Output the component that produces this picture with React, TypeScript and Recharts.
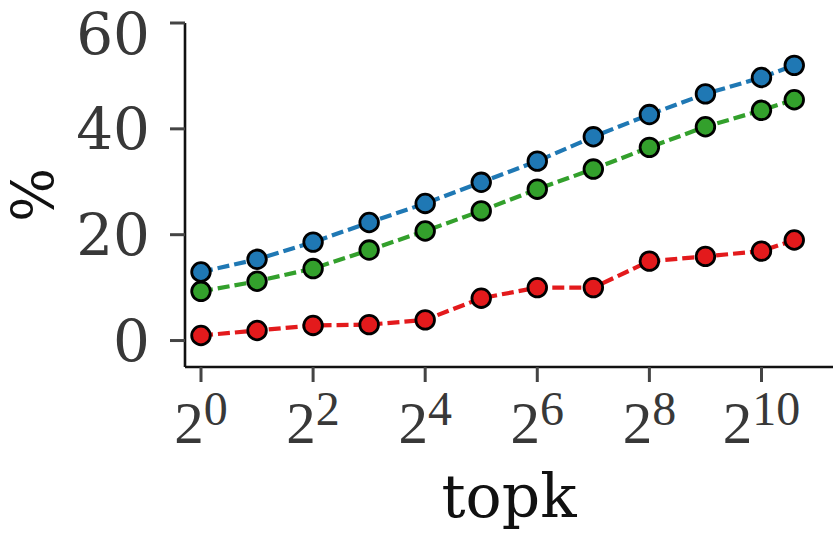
import React from "react";
import { LineChart, Line, XAxis, YAxis } from "recharts";

const topk = [1, 2, 4, 8, 16, 32, 64, 128, 256, 512, 1024, 1536];
const blueSeries = [12.95, 15.35, 18.6, 22.3, 25.9, 29.9, 33.9, 38.5, 42.7, 46.6, 49.7, 52.0];
const greenSeries = [9.3, 11.2, 13.6, 17.1, 20.7, 24.5, 28.6, 32.4, 36.5, 40.4, 43.5, 45.5];
const redSeries = [0.95, 1.9, 2.85, 3.0, 3.9, 8.0, 10.0, 10.0, 15.0, 15.9, 16.9, 19.0];
const xTicks = [1, 4, 16, 64, 256, 1024];
const yTicks = [0, 20, 40, 60];
const xLabel = "topk";
const yLabel = "%";

const data = topk.map((k, i) => ({
  topk: k,
  blue: blueSeries[i],
  green: greenSeries[i],
  red: redSeries[i],
}));

const COLORS = { blue: "#1f78b4", green: "#33a02c", red: "#e31a1c" };

const XTick = (props: any) => {
  const { x, y, payload } = props;
  const exp = Math.round(Math.log2(payload.value));
  return (
    <text
      x={x}
      y={y + 61}
      textAnchor="middle"
      fill="#383838"
      fontFamily="'Liberation Serif', serif"
      fontSize={59}
    >
      <tspan>2</tspan>
      <tspan dy={-18} fontSize={48}>
        {exp}
      </tspan>
    </text>
  );
};

export default function App() {
  const series: Array<keyof typeof COLORS> = ["blue", "green", "red"];
  return (
    <div style={{ position: "absolute", left: 0, top: 0, width: 833, height: 533, background: "#fff" }}>
      <LineChart
        width={833}
        height={533}
        data={data}
        margin={{ top: 23, right: 0, bottom: 0, left: 0 }}
      >
        <XAxis
          dataKey="topk"
          type="number"
          scale="log"
          domain={[0.8205, 2480]}
          allowDataOverflow
          ticks={xTicks}
          height={166}
          tickSize={15}
          tickMargin={0}
          tick={<XTick />}
          axisLine={{ stroke: "#111", strokeWidth: 2.6 }}
          tickLine={{ stroke: "#444", strokeWidth: 3 }}
          label={{
            content: () => (
              <text
                x={509}
                y={517}
                textAnchor="middle"
                fill="#111"
                fontFamily="'DejaVu Serif', serif"
                fontSize={60}
              >
                {xLabel}
              </text>
            ),
          }}
        />
        <YAxis
          type="number"
          domain={[-5, 60]}
          allowDataOverflow
          ticks={yTicks}
          width={185}
          tickSize={15}
          tickMargin={20}
          tick={{ fill: "#383838", fontFamily: "'DejaVu Serif', serif", fontSize: 58 }}
          axisLine={{ stroke: "#111", strokeWidth: 2.6 }}
          tickLine={{ stroke: "#444", strokeWidth: 3 }}
          label={{
            content: () => (
              <text
                x={53}
                y={195}
                transform="rotate(-90, 53, 195)"
                textAnchor="middle"
                fill="#111"
                fontFamily="'DejaVu Serif', serif"
                fontSize={57}
              >
                {yLabel}
              </text>
            ),
          }}
        />
        {series.map((s) => (
          <Line
            key={s}
            dataKey={s}
            stroke={COLORS[s]}
            strokeWidth={4.2}
            strokeDasharray="12 5"
            isAnimationActive={false}
            dot={{ r: 9.3, fill: COLORS[s], stroke: "#000", strokeWidth: 2.8, strokeDasharray: "none" }}
            activeDot={false}
          />
        ))}
      </LineChart>
    </div>
  );
}
